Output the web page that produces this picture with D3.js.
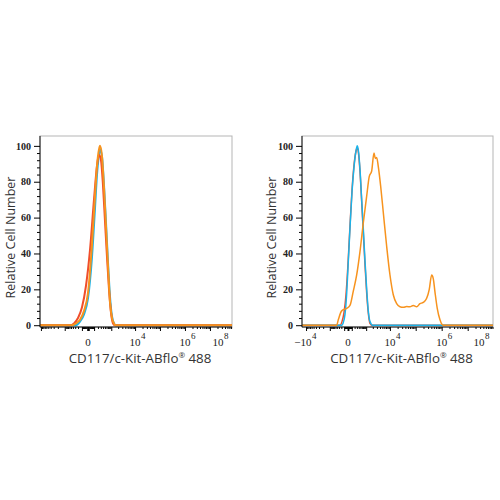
<!DOCTYPE html>
<html>
<head>
<meta charset="utf-8">
<script src="https://cdn.jsdelivr.net/npm/d3@7"></script>
<style>
  body { margin: 0; background: #fff; }
  svg { display: block; }
  .ytick { font-family: "Liberation Serif", serif; font-weight: bold; font-size: 10px; fill: #222; }
  .xtick { font-family: "Liberation Serif", serif; font-size: 11px; fill: #222; }
  .title { font-family: "Open Sans", "Noto Sans", sans-serif; fill: #333; }
</style>
</head>
<body>
<svg id="chart" width="500" height="500"></svg>
<script>
// fluorescence values (x) and relative cell number (y)

// left panel
var leftRed = [
  [-10900, 0], [-565, 0], [-350, 1], [-201, 4], [-98, 10], [-27, 22], [27, 42], [98, 70],
  [172, 89], [233, 95], [307, 92], [396, 78], [503, 58], [632, 38], [787, 20], [972, 7],
  [1197, 1], [1464, 0], [7.6e7, 0]
]
var leftCyan = [
  [-10900, 0], [-269, 0], [-145, 2], [-59, 6], [0, 15], [59, 38], [120, 65], [172, 84],
  [233, 95], [269, 98], [350, 94], [447, 78], [565, 57], [706, 35], [875, 16], [1079, 5],
  [1325, 1], [1619, 0], [7.6e7, 0]
]
var leftOrange = [
  [-10900, 0], [-447, 0], [-269, 1], [-145, 3], [-59, 8], [0, 18], [59, 45], [120, 72],
  [172, 89], [233, 98], [269, 100], [350, 94], [447, 77], [565, 55], [706, 33], [875, 13],
  [1079, 4], [1325, 1], [1464, 0], [7.6e7, 0]
]

// right panel
var rightRed = [
  [-14400, 0], [-257, 0], [-175, 2], [-106, 7], [-48, 17], [0, 34], [48, 55], [106, 75],
  [175, 89], [257, 97], [319, 99], [383, 96], [473, 86], [590, 69], [718, 52], [875, 34],
  [1058, 18], [1257, 7], [1502, 1], [1840, 0], [9.4e7, 0]
]
var rightCyan = [
  [-14400, 0], [-187, 0], [-139, 1], [-76, 6], [-30, 18], [0, 32], [48, 54], [106, 74],
  [175, 88], [257, 97], [319, 100], [383, 97], [473, 87], [590, 70], [718, 54], [875, 36],
  [1058, 20], [1257, 8], [1502, 2], [1975, 0], [9.4e7, 0]
]
var rightOrange = [
  [-14400, 0], [-430, 0], [-340, 3], [-187, 8], [-30, 9.4], [48, 11], [150, 19], [290, 28],
  [473, 41], [718, 57], [1058, 72], [1397, 83], [1786, 86], [2245, 96], [2550, 93],
  [2920, 93.5], [3400, 88.6], [4265, 77.5], [5433, 63], [7425, 44], [10035, 28],
  [13525, 17], [18350, 12], [24675, 10.3], [33125, 10], [45000, 10.4], [60125, 10.3],
  [80625, 11], [109000, 10.3], [146000, 12], [195500, 12.7], [264500, 15], [333000, 20],
  [411500, 28], [474500, 26], [551000, 18.6], [675500, 9.4], [859000, 3], [1150000, 0],
  [9.4e7, 0]
]

var yTicks = [0, 20, 40, 60, 80, 100]
var xTitle = 'CD117/c-Kit-ABflo'
var yTitle = 'Relative Cell Number'

var colors = {red: '#f04e2b', cyan: '#1bb3e9', orange: '#f7931e'}

var svg = d3.select('#chart')

function drawPanel(p) {
  var x = d3.scaleSymlog().constant(p.c).domain(p.xDomain).range([p.left, p.right])
  var y = d3.scaleLinear().domain([-1, 105.5]).range([p.bottom, p.top])

  var g = svg.append('g')

  // frame
  g.append('rect')
    .attr('x', p.left).attr('y', p.top)
    .attr('width', p.right - p.left).attr('height', p.bottom - p.top)
    .attr('fill', 'none').attr('stroke', '#b5b5b5').attr('stroke-width', 1)

  // curves
  var line = d3.line()
    .x(d => x(d[0]))
    .y(d => y(d[1]))
    .curve(d3.curveMonotoneX)

  p.series.forEach(function(s) {
    g.append('path')
      .attr('d', line(s.values))
      .attr('fill', 'none')
      .attr('stroke', colors[s.color])
      .attr('stroke-width', p.lw)
      .attr('stroke-linejoin', 'round')
  })

  // y axis
  var yMinor = d3.range(0, 101, 4).filter(v => v % 20 != 0)
  g.append('g')
    .attr('transform', 'translate(' + p.left + ',0)')
    .call(d3.axisLeft(y).tickValues(yMinor).tickSize(3).tickFormat(''))
    .call(a => a.select('.domain').remove())
  var ya = g.append('g')
    .attr('transform', 'translate(' + p.left + ',0)')
    .call(d3.axisLeft(y).tickValues(yTicks).tickSize(6).tickPadding(3))
  ya.select('.domain').attr('d', 'M0,' + p.top + 'V' + p.bottom).attr('stroke', '#111')
  ya.selectAll('text').attr('class', 'ytick').attr('fill', null)

  // x axis: decade ticks and minor ticks
  var majors = [], minors = []
  for (var k = 1; k <= 7; k++) {
    for (var m = 1; m <= 9; m++) {
      var v = m * Math.pow(10, k)
      ;[v, -v].forEach(function(t) {
        if (t < p.xDomain[0] || t > p.xDomain[1]) return
        if (m == 1) majors.push(t); else minors.push(t)
      })
    }
  }
  majors.push(0)
  g.append('g')
    .attr('transform', 'translate(0,' + p.bottom + ')')
    .call(d3.axisBottom(x).tickValues(minors).tickSize(2).tickFormat(''))
    .call(a => a.select('.domain').remove())
  var xa = g.append('g')
    .attr('transform', 'translate(0,' + p.bottom + ')')
    .call(d3.axisBottom(x).tickValues(majors).tickSize(4).tickFormat(''))
  xa.select('.domain').attr('d', 'M' + p.left + ',0H' + p.right).attr('stroke', '#111')

  // x tick labels
  p.xLabels.forEach(function(l) {
    var tx = Math.min(x(l.v), p.right - 14)
    var t = g.append('text').attr('class', 'xtick')
      .attr('y', p.bottom + 19)
    if (l.v == 0) {
      t.attr('x', tx).attr('text-anchor', 'middle').text('0')
    } else {
      t.attr('x', tx + 5.5).attr('text-anchor', 'end').text(l.v < 0 ? '\u221210' : '10')
      g.append('text').attr('class', 'xtick')
        .attr('x', tx + 6).attr('y', p.bottom + 12)
        .style('font-size', '9px')
        .text(l.exp)
    }
  })

  // titles
  var xt = g.append('text').attr('class', 'title')
    .attr('x', (p.left + p.right) / 2 + 4).attr('y', p.bottom + 36)
    .attr('text-anchor', 'middle').style('font-size', '13.3px')
  xt.append('tspan').text(xTitle)
  xt.append('tspan').attr('dy', -5).style('font-size', '8px').text('\u00ae')
  xt.append('tspan').attr('dy', 5).text(' 488')

  g.append('text').attr('class', 'title')
    .attr('transform', 'translate(' + p.yTitleX + ',' + ((p.top + p.bottom) / 2 + 6) + ') rotate(-90)')
    .attr('text-anchor', 'middle').style('font-size', '12.5px')
    .text(yTitle)
}

drawPanel({
  left: 40, right: 232, top: 136, bottom: 327, c: 133, xDomain: [-10900, 7.6e7], lw: 2,
  yTitleX: 15,
  xLabels: [{v: 0}, {v: 1e4, exp: '4'}, {v: 1e6, exp: '6'}, {v: 1e8, exp: '8'}],
  series: [
    {color: 'cyan', values: leftCyan},
    {color: 'red', values: leftRed},
    {color: 'orange', values: leftOrange}
  ]
})

drawPanel({
  left: 302, right: 493, top: 136, bottom: 327, c: 250, xDomain: [-14400, 9.4e7], lw: 1.5,
  yTitleX: 276,
  xLabels: [{v: -1e4, exp: '4'}, {v: 0}, {v: 1e4, exp: '4'}, {v: 1e6, exp: '6'}, {v: 1e8, exp: '8'}],
  series: [
    {color: 'red', values: rightRed},
    {color: 'cyan', values: rightCyan},
    {color: 'orange', values: rightOrange}
  ]
})
</script>
</body>
</html>
